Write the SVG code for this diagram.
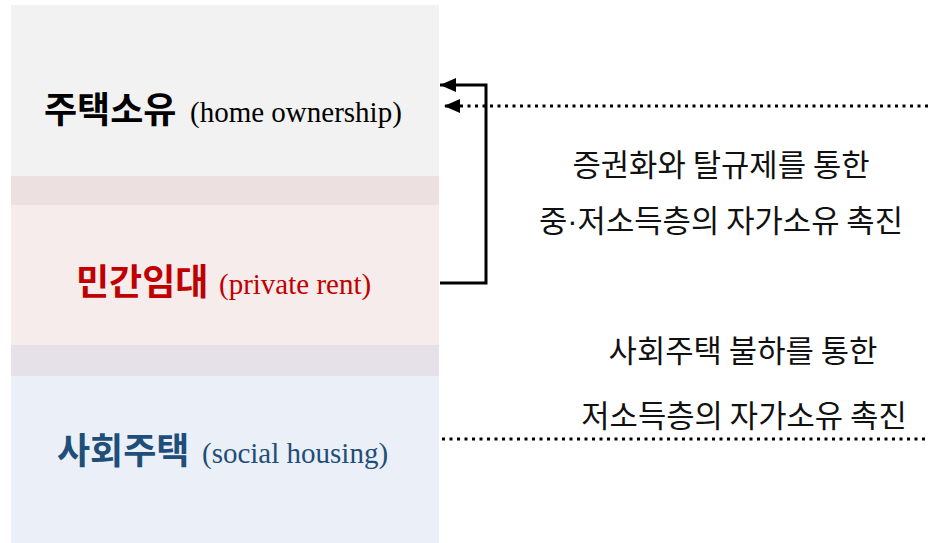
<svg xmlns="http://www.w3.org/2000/svg" width="928" height="543" viewBox="0 0 928 543">
<style>
.ko{font-family:"Noto Sans CJK KR","Noto Sans",sans-serif;font-weight:bold;font-size:36px}
.en{font-family:"Liberation Serif","Times New Roman",serif;font-size:29px}
.note{font-family:"Noto Sans CJK KR","Noto Sans",sans-serif;font-size:30.8px;fill:#111;text-anchor:middle}
.md{font-family:"Liberation Sans",sans-serif}
.solid{fill:none;stroke:#000;stroke-width:3}
.dot{fill:none;stroke:#000;stroke-width:3;stroke-dasharray:3 4.5}
</style>
<defs>
<marker id="ah" viewBox="0 0 16 14" refX="16" refY="7" markerWidth="16" markerHeight="14" markerUnits="userSpaceOnUse" orient="auto">
<polygon points="0,0 16,7 0,14" fill="#000"/>
</marker>
</defs>
<rect width="928" height="543" fill="#fff"/>
<rect x="11" y="176" width="428" height="29" fill="#ede0e0"/>
<rect x="11" y="345" width="428" height="31" fill="#e6e1e8"/>
<g id="home-ownership">
<rect x="11" y="5" width="428" height="171" fill="#f2f2f2"/>
<text class="ko" x="44" y="123" fill="#000">주택소유</text>
<text class="en" x="190" y="122" fill="#000">(home ownership)</text>
</g>
<g id="private-rent">
<rect x="11" y="205" width="428" height="140" fill="#f6ecec"/>
<text class="ko" x="76" y="295" fill="#c00000">민간임대</text>
<text class="en" x="219" y="294" fill="#c00000">(private rent)</text>
</g>
<g id="social-housing">
<rect x="11" y="376" width="428" height="167" fill="#ebf0f8"/>
<text class="ko" x="57" y="464" fill="#1f4e79">사회주택</text>
<text class="en" x="202" y="463" fill="#1f4e79">(social housing)</text>
</g>
<g id="connectors">
<polyline class="solid" points="440,283 486,283 486,85 440,85" marker-end="url(#ah)"/>
<line class="dot" x1="928" y1="106" x2="444" y2="106" marker-end="url(#ah)"/>
<line class="dot" x1="442" y1="439" x2="928" y2="439"/>
</g>
<g id="labels">
<text class="note" x="721" y="176">증권화와 탈규제를 통한</text>
<text class="note" x="721" y="232">중<tspan class="md">·</tspan>저소득층의 자가소유 촉진</text>
<text class="note" x="743" y="362">사회주택 불하를 통한</text>
<text class="note" x="744" y="427">저소득층의 자가소유 촉진</text>
</g>
</svg>
